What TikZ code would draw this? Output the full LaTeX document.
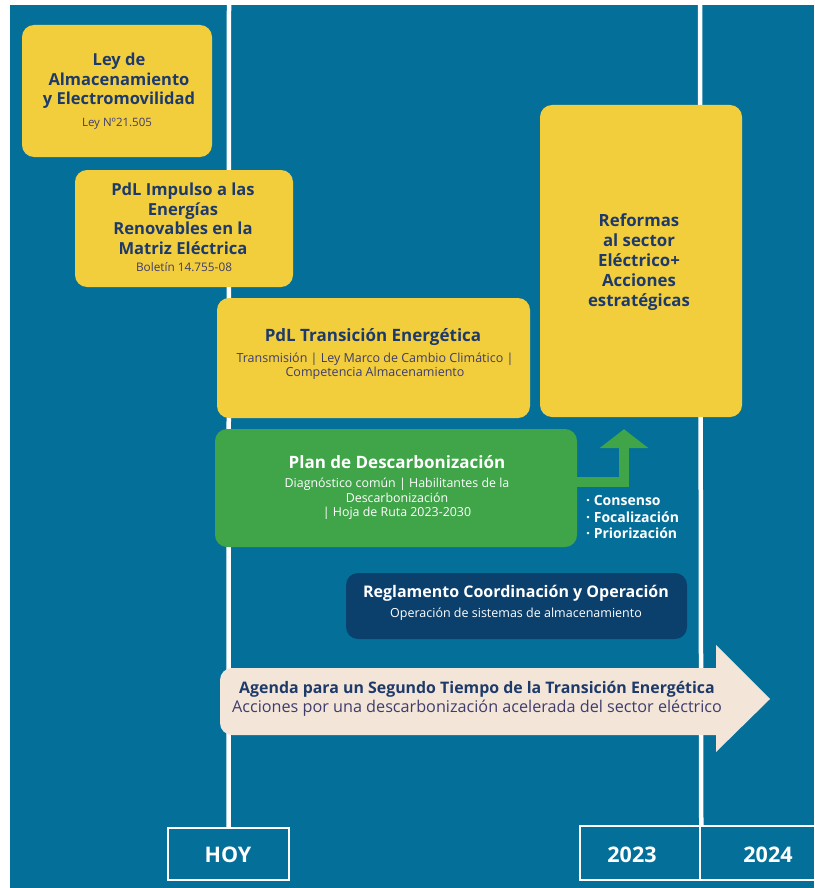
\documentclass[tikz,border=0pt]{standalone}
\usepackage{fontspec}
\setmainfont{Open Sans}
\usetikzlibrary{arrows.meta}
\definecolor{bgblue}{HTML}{04709A}
\definecolor{ybox}{HTML}{F2CE3D}
\definecolor{gbox}{HTML}{3FA548}
\definecolor{nbox}{HTML}{0B3F6C}
\definecolor{beige}{HTML}{F3E6D8}
\definecolor{headc}{HTML}{1E3A6B}
\definecolor{subc}{HTML}{3F3C6E}
\tikzset{
  yellowbox/.style={fill=ybox, rounded corners=12pt, inner sep=0pt},
  greenbox/.style={fill=gbox, rounded corners=12pt, inner sep=0pt},
  navybox/.style={fill=nbox, rounded corners=12pt, inner sep=0pt},
  yearbox/.style={draw=white, line width=2.5pt, inner sep=0pt},
  timeline/.style={draw=white, line width=4.5pt},
  headtxt/.style={text=headc, inner sep=0pt, align=center, font=\bfseries\fontsize{17pt}{19.5pt}\selectfont},
  subtxt/.style={text=subc, inner sep=0pt, align=center, font=\fontsize{12.5pt}{14pt}\selectfont},
  whitehead/.style={text=white, inner sep=0pt, align=center, font=\bfseries\fontsize{17pt}{19pt}\selectfont},
  whitesub/.style={text=white, inner sep=0pt, align=center, font=\fontsize{12.4pt}{14.5pt}\selectfont},
  yeartxt/.style={text=white, inner sep=0pt, font=\bfseries\fontsize{21.5pt}{26pt}\selectfont},
  greenarrow/.style={draw=gbox, line width=10pt, shorten >=12pt, -{Triangle[width=48pt,length=19pt]}}
}
\begin{document}
\begin{tikzpicture}[x=1pt,y=-1pt]
\useasboundingbox (0,0) rectangle (814,888);
\fill[white] (0,0) rectangle (814,888);
\fill[bgblue] (10,5) rectangle (814,888);

% year boxes
\node[yearbox, minimum width=121pt, minimum height=52pt] (hoy) at (228.5,854) {};
\node[yearbox, minimum width=120pt, minimum height=54pt] (y2023) at (640,853) {};
\node[yearbox, minimum width=122pt, minimum height=54pt] (y2024) at (761,853) {};
\coordinate (topL) at (229,5);
\coordinate (topR) at (700,5);
\draw[timeline] (topL) -- (hoy.north);
\draw[timeline] (topR) -- (y2023.north east);

% boxes
\node[yellowbox, minimum width=190pt, minimum height=132pt] (ley) at (117,91) {};
\node[yellowbox, minimum width=218pt, minimum height=117pt] (impulso) at (184,228.5) {};
\node[yellowbox, minimum width=313pt, minimum height=120pt] (trans) at (373.5,358) {};
\node[greenbox, minimum width=362pt, minimum height=118pt] (plan) at (396,488) {};
\node[yellowbox, minimum width=202pt, minimum height=312pt] (reform) at (641,261) {};
\node[navybox, minimum width=341pt, minimum height=66pt] (regl) at (516.5,606) {};

% agenda arrow
\node[fill=beige, rounded corners=12pt, inner sep=0pt, minimum width=510pt, minimum height=67pt] (agenda) at (475,701.5) {};
\coordinate (headtop) at (716,645);
\coordinate (headtip) at (770,699);
\coordinate (headbot) at (716,752);
\fill[beige] (headtop) -- (headtip) -- (headbot) -- cycle;

% green connector arrow
\draw[greenarrow] ([yshift=6pt]plan.east) -| ([xshift=-17pt]reform.south);

% texts
\node[headtxt, font=\bfseries\fontsize{16.5pt}{19.5pt}\selectfont] (leyT) at (119,81) {Ley de\\Almacenamiento\\y Electromovilidad};
\node[subtxt, font=\fontsize{11.5pt}{14pt}\selectfont, anchor=base] (leyS) at (117,127) {Ley Nº21.505};

\node[headtxt, font=\bfseries\fontsize{16.6pt}{19.5pt}\selectfont] (impT) at (183,219) {PdL Impulso a las\\Energías\\Renovables en la\\Matriz Eléctrica};
\node[subtxt, font=\fontsize{11.8pt}{14pt}\selectfont, anchor=base] (impS) at (184,271) {Boletín 14.755-08};

\node[headtxt, anchor=base] (transT) at (373,341) {PdL Transición Energética};
\node[subtxt] (transS) at (375,366) {Transmisión | Ley Marco de Cambio Climático |\\Competencia Almacenamiento};

\node[whitehead, anchor=base] (planT) at (397,468) {Plan de Descarbonización};
\node[whitesub] (planS) at (397,499) {Diagnóstico común | Habilitantes de la\\Descarbonización\\| Hoja de Ruta 2023-2030};

\node[headtxt, font=\bfseries\fontsize{16.8pt}{20pt}\selectfont] (refT) at (639,262) {Reformas\\al sector\\Eléctrico+\\Acciones\\estratégicas};

\node[text=white, inner sep=0pt, align=left, anchor=west, font=\bfseries\fontsize{14pt}{16.5pt}\selectfont] (bullets) at (586,517) {· Consenso\\· Focalización\\· Priorización};

\node[whitehead, font=\bfseries\fontsize{16pt}{18pt}\selectfont, anchor=base] (reglT) at (516,597) {Reglamento Coordinación y Operación};
\node[whitesub, font=\fontsize{12.5pt}{14.5pt}\selectfont, anchor=base] (reglS) at (516,617) {Operación de sistemas de almacenamiento};

\node[text=headc, inner sep=0pt, anchor=base, font=\bfseries\fontsize{15.9pt}{19pt}\selectfont] (agT) at (477,693) {Agenda para un Segundo Tiempo de la Transición Energética};
\node[text=subc, inner sep=0pt, anchor=base, font=\fontsize{16.2pt}{19pt}\selectfont] (agS) at (477,712) {Acciones por una descarbonización acelerada del sector eléctrico};

\node[yeartxt, anchor=base] (hoyT) at (228,862) {HOY};
\node[yeartxt, anchor=base] (t2023) at (632,862) {2023};
\node[yeartxt, anchor=base] (t2024) at (768,862) {2024};
\end{tikzpicture}
\end{document}
